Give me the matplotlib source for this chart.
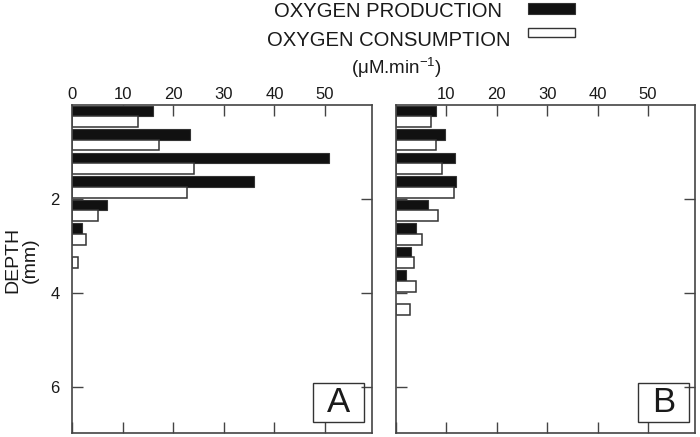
import matplotlib
matplotlib.use("Agg")
import matplotlib.pyplot as plt
from matplotlib.patches import Rectangle
import numpy as np

plt.rcParams['font.family'] = ['Liberation Sans', 'DejaVu Sans']
plt.rcParams['mathtext.fontset'] = 'custom'
plt.rcParams['mathtext.rm'] = 'Liberation Sans'
plt.rcParams['mathtext.it'] = 'Liberation Sans'

# Depth of each layer centre (mm)
depth_A = [0.25, 0.75, 1.25, 1.75, 2.25, 2.75, 3.25]
prod_A = [16.0, 23.3, 50.7, 36.0, 6.9, 1.9, 0.0]
cons_A = [13.1, 17.2, 24.2, 22.8, 5.1, 2.8, 1.25]

depth_B = [0.25, 0.75, 1.25, 1.75, 2.25, 2.75, 3.25, 3.75, 4.25]
prod_B = [7.9, 9.7, 11.8, 12.0, 6.4, 4.0, 3.0, 2.0, 0.0]
cons_B = [6.9, 7.9, 9.2, 11.6, 8.3, 5.2, 3.6, 4.0, 2.8]

x_ticks = [0, 10, 20, 30, 40, 50]
y_ticks = [2, 4, 6]
legend_labels = ["OXYGEN PRODUCTION", "OXYGEN CONSUMPTION"]
unit_label = r"(μM.min$^{-1}$)"
panel_labels = ["A", "B"]

spine_col = '#444444'
text_col = '#1a1a1a'

fig = plt.figure(figsize=(7, 4.37), dpi=100)
axA = fig.add_axes([0.1029, 0.0085, 0.4286, 0.752])
axB = fig.add_axes([0.5657, 0.0085, 0.4271, 0.752])

h = 0.225
for ax, d, p, c, lab, show0, bx in [
    (axA, depth_A, prod_A, cons_A, panel_labels[0], True, (0.804, 0.974)),
    (axB, depth_B, prod_B, cons_B, panel_labels[1], False, (0.808, 0.980)),
]:
    ax.set_axisbelow(True)
    d = np.array(d)
    pm = np.array(p) > 0
    ax.barh(d[pm] - h / 2, np.array(p)[pm], height=h, color='#111111',
            edgecolor='#333333', linewidth=0.8, zorder=3)
    ax.barh(d + h / 2, c, height=h, color='white', edgecolor='#333333',
            linewidth=1.1, zorder=3)
    ax.set_xlim(0, 59.3)
    ax.set_ylim(6.99, 0)
    ax.xaxis.tick_top()
    ax.set_xticks(x_ticks)
    if show0:
        ax.set_xticklabels([str(t) for t in x_ticks])
    else:
        ax.set_xticklabels([''] + [str(t) for t in x_ticks[1:]])
    ax.set_yticks(y_ticks)
    ax.tick_params(axis='both', direction='in', length=8, width=1.0,
                   color=spine_col, top=True, bottom=True, left=True,
                   right=True, labelsize=12, labelcolor=text_col)
    ax.tick_params(axis='x', pad=2)
    ax.tick_params(axis='y', pad=9)
    if not show0:
        ax.set_yticklabels([])
    for s in ax.spines.values():
        s.set_color(spine_col)
        s.set_linewidth(1.2)
        s.set_zorder(4)
    ax.add_patch(Rectangle((bx[0], 0.0353), bx[1] - bx[0], 0.1167,
                           transform=ax.transAxes, fill=False,
                           edgecolor='#333333', linewidth=1.0, zorder=5))
    ax.text((bx[0] + bx[1]) / 2, 0.095, lab, transform=ax.transAxes,
            ha='center', va='center', fontsize=25, color=text_col, zorder=6)

fig.text(0.031, 0.405, "DEPTH\n(mm)", rotation=90, ha='center', va='center',
         fontsize=14, color=text_col, linespacing=1.05)

fig.text(0.554, 0.973, legend_labels[0], ha='center', va='center',
         fontsize=14.6, color=text_col)
fig.text(0.556, 0.908, legend_labels[1], ha='center', va='center',
         fontsize=14.6, color=text_col)
fig.text(0.566, 0.845, unit_label, ha='center', va='center',
         fontsize=13.5, color=text_col)

fig.patches.append(Rectangle((0.7547, 0.968), 0.0667, 0.0245,
                             transform=fig.transFigure, facecolor='#111111',
                             edgecolor='#333333', linewidth=0.8))
fig.patches.append(Rectangle((0.7547, 0.916), 0.0667, 0.0192,
                             transform=fig.transFigure, facecolor='white',
                             edgecolor='#333333', linewidth=1.0))

fig.savefig("out.png", dpi=100)
